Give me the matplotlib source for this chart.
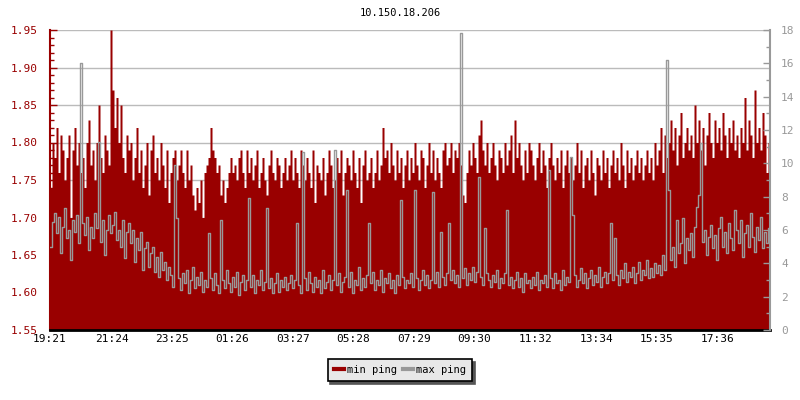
import numpy as np
import matplotlib
matplotlib.use("Agg")
import matplotlib.pyplot as plt
from matplotlib.lines import Line2D
from matplotlib.ticker import MultipleLocator

plt.rcParams['font.family'] = ['DejaVu Sans Mono']
plt.rcParams['font.size'] = 7.5

RED = '#990000'
GREY = '#999999'

title = "10.150.18.206"
start_time = "19:21"
step_min = 4  # minutes per sample
tick_labels = ["19:21", "21:24", "23:25", "01:26", "03:27", "05:28",
               "07:29", "09:30", "11:32", "13:34", "15:35", "17:36"]

# min ping (ms, left axis)
min_ping = [
    1.74, 1.80, 1.78, 1.82, 1.76, 1.81, 1.79, 1.75, 1.78, 1.81, 1.70, 1.79, 1.82, 1.77, 1.80, 1.76, 1.78, 1.74, 1.80, 1.83,
    1.77, 1.79, 1.75, 1.80, 1.85, 1.78, 1.76, 1.81, 1.79, 1.77, 1.95, 1.87, 1.82, 1.86, 1.80, 1.85, 1.78, 1.76, 1.81, 1.79,
    1.80, 1.75, 1.78, 1.82, 1.76, 1.79, 1.74, 1.77, 1.80, 1.73, 1.79, 1.81, 1.76, 1.78, 1.75, 1.80, 1.77, 1.74, 1.79, 1.72,
    1.76, 1.78, 1.79, 1.75, 1.77, 1.79, 1.76, 1.74, 1.79, 1.75, 1.77, 1.73, 1.71, 1.74, 1.72, 1.75, 1.70, 1.76, 1.77, 1.78,
    1.82, 1.79, 1.78, 1.76, 1.77, 1.73, 1.75, 1.72, 1.74, 1.76, 1.78, 1.76, 1.77, 1.75, 1.78, 1.79, 1.76, 1.74, 1.79, 1.76,
    1.78, 1.75, 1.77, 1.79, 1.74, 1.76, 1.78, 1.75, 1.73, 1.77, 1.79, 1.76, 1.75, 1.78, 1.77, 1.74, 1.76, 1.78, 1.75, 1.77,
    1.79, 1.75, 1.78, 1.76, 1.74, 1.79, 1.77, 1.75, 1.78, 1.76, 1.74, 1.79, 1.72, 1.77, 1.76, 1.75, 1.78, 1.73, 1.76, 1.79,
    1.77, 1.74, 1.75, 1.78, 1.76, 1.79, 1.73, 1.76, 1.78, 1.77, 1.75, 1.79, 1.76, 1.74, 1.78, 1.72, 1.77, 1.79, 1.75, 1.76,
    1.78, 1.74, 1.76, 1.79, 1.75, 1.77, 1.82, 1.78, 1.79, 1.76, 1.80, 1.77, 1.75, 1.79, 1.76, 1.78, 1.74, 1.77, 1.79, 1.75,
    1.78, 1.76, 1.80, 1.77, 1.75, 1.79, 1.78, 1.74, 1.77, 1.80, 1.76, 1.79, 1.75, 1.78, 1.76, 1.74, 1.79, 1.80, 1.77, 1.78,
    1.80, 1.76, 1.79, 1.78, 1.80, 1.77, 1.73, 1.72, 1.76, 1.79, 1.77, 1.80, 1.78, 1.76, 1.81, 1.83, 1.79, 1.77, 1.80, 1.76,
    1.78, 1.80, 1.77, 1.75, 1.79, 1.78, 1.76, 1.80, 1.77, 1.79, 1.81, 1.76, 1.83, 1.78, 1.80, 1.77, 1.75, 1.79, 1.76, 1.80,
    1.79, 1.77, 1.75, 1.78, 1.80, 1.76, 1.79, 1.77, 1.74, 1.78, 1.80, 1.77, 1.75, 1.78, 1.76, 1.79, 1.74, 1.77, 1.79, 1.76,
    1.78, 1.75, 1.77, 1.80, 1.76, 1.79, 1.74, 1.77, 1.78, 1.75, 1.79, 1.76, 1.73, 1.78, 1.77, 1.75, 1.79, 1.76, 1.78, 1.74,
    1.77, 1.79, 1.76, 1.78, 1.75, 1.80, 1.77, 1.74, 1.79, 1.76, 1.78, 1.75, 1.77, 1.79, 1.76, 1.78, 1.75, 1.77, 1.79, 1.76,
    1.78, 1.75, 1.80, 1.77, 1.79, 1.82, 1.76, 1.81, 1.78, 1.80, 1.83, 1.79, 1.82, 1.77, 1.81, 1.84, 1.78, 1.80, 1.82, 1.79,
    1.81, 1.78, 1.85, 1.80, 1.83, 1.79, 1.82, 1.77, 1.81, 1.84, 1.80, 1.78, 1.83, 1.80, 1.82, 1.79, 1.84, 1.81, 1.78, 1.82,
    1.80, 1.83, 1.79, 1.81, 1.78, 1.82, 1.80, 1.86, 1.79, 1.83, 1.81, 1.78, 1.87, 1.80, 1.82, 1.79, 1.84, 1.81, 1.76, 1.80,
]

# max ping (ms, right axis)
max_ping = [
    5.0, 6.5, 7.0, 5.8, 6.8, 4.6, 6.2, 7.3, 5.5, 6.0, 4.2, 6.6, 5.9, 6.9, 5.2, 16.0, 6.4, 5.7, 6.8, 4.8,
    6.2, 5.5, 7.0, 6.1, 11.3, 5.3, 6.6, 4.5, 6.0, 6.9, 5.8, 6.3, 7.1, 5.4, 6.0, 5.0, 6.6, 4.3, 5.9, 6.4,
    5.2, 6.0, 4.1, 5.5, 4.8, 5.9, 3.6, 4.9, 5.3, 3.8, 4.6, 5.0, 3.5, 4.4, 3.2, 4.7, 3.6, 4.1, 3.0, 3.8,
    3.3, 2.6, 9.9, 6.7, 3.1, 2.4, 3.4, 2.8, 3.6, 2.2, 3.0, 3.8, 2.5, 3.2, 2.7, 3.5, 2.3, 3.0, 2.6, 5.8,
    3.1, 2.4, 3.4, 2.7, 2.2, 6.6, 3.0, 2.5, 3.6, 2.8, 2.3, 3.2, 2.6, 3.5, 2.1, 2.9, 3.3, 2.4, 3.0, 7.9,
    2.6, 3.3, 2.2, 3.0, 2.7, 3.6, 2.4, 2.9, 7.3, 2.5, 3.1, 2.2, 2.8, 3.4, 2.3, 3.0, 2.6, 3.2, 2.4, 2.8,
    3.3, 2.5, 3.0, 6.4, 2.7, 2.2, 10.7, 3.1, 2.4, 3.5, 2.8, 2.3, 3.2, 2.6, 3.0, 2.2, 3.6, 2.5, 2.9, 3.3,
    2.4, 3.0, 10.8, 2.7, 3.4, 2.3, 2.9, 3.2, 8.4, 2.6, 3.5, 2.2, 3.0, 2.7, 3.8, 2.4, 3.1, 2.6, 3.3, 6.4,
    2.8, 3.5, 2.4, 3.0, 2.7, 3.6, 2.3, 3.1, 2.8, 3.4, 2.5, 3.0, 2.2, 3.3, 2.7, 7.8, 3.2, 2.5, 3.0, 2.8,
    3.4, 2.6, 8.4, 3.1, 2.4, 3.0, 3.6, 2.7, 3.3, 2.5, 3.0, 8.3, 2.8, 3.5, 2.6, 5.9, 3.2, 2.7, 3.4, 6.4,
    3.0, 3.6, 2.8, 3.3, 2.6, 17.8, 3.1, 3.7, 2.7, 3.4, 3.0, 3.8, 2.9, 3.5, 9.2, 3.2, 2.7, 6.1, 3.4, 3.0,
    2.6, 3.3, 2.9, 3.6, 2.5, 3.1, 2.8, 3.4, 7.2, 2.7, 3.2, 2.5, 3.0, 3.5, 2.6, 3.1, 2.3, 3.4, 2.8, 3.0,
    2.5, 3.2, 2.7, 3.5, 2.4, 3.0, 2.8, 3.3, 2.6, 9.6, 3.1, 2.5, 3.4, 2.8, 3.0, 2.4, 3.6, 2.7, 3.2, 2.9,
    10.4, 6.9, 3.3, 2.6, 3.0, 3.7, 2.8, 3.4, 2.5, 3.1, 3.6, 2.7, 3.3, 2.9, 3.8, 2.6, 3.2, 3.5, 2.8, 3.4,
    6.4, 3.0, 5.5, 3.3, 2.7, 3.6, 3.1, 4.0, 2.9, 3.5, 3.2, 3.8, 2.8, 3.4, 4.1, 3.0, 3.6, 3.3, 4.2, 3.1,
    3.7, 3.2, 4.0, 3.4, 3.9, 3.3, 4.5, 3.6, 16.2, 8.4, 4.2, 5.0, 3.8, 6.6, 4.6, 5.2, 6.7, 4.0, 5.5, 4.8,
    5.8, 4.4, 6.2, 7.4, 8.1, 11.2, 5.3, 6.0, 4.5, 5.6, 6.3, 4.9, 5.7, 4.2, 6.1, 6.8, 5.0, 5.9, 4.6, 6.4,
    5.5, 4.8, 7.2, 6.0, 5.2, 6.6, 4.4, 5.8, 6.3, 5.0, 7.0, 5.6, 4.7, 6.2, 5.4, 6.8, 4.9, 5.9, 5.2, 6.1,
]

n = len(min_ping)
xs = np.arange(n + 1)
mins = np.append(min_ping, min_ping[-1])
maxs = np.append(max_ping, max_ping[-1])


def to_min(t):
    h, m = map(int, t.split(':'))
    return h * 60 + m


t0 = to_min(start_time)
tick_pos = [((to_min(t) - t0) % 1440) / step_min for t in tick_labels]

fig = plt.figure(figsize=(8, 4), dpi=100)
ax = fig.add_axes([50 / 800, 70 / 400, 720 / 800, 300 / 400])
ax2 = ax.twinx()

ax.set_axisbelow(True)
ax.yaxis.grid(True, color='#bbbbbb', lw=1)
ax.fill_between(xs, 1.55, mins, step='post', color=RED, lw=0)
ax2.step(xs, maxs, where='post', color=GREY, lw=1)

ax.set_xlim(0, n)
ax.set_ylim(1.55, 1.95)
ax2.set_ylim(0, 18)

ax.set_yticks(np.arange(1.55, 1.951, 0.05))
ax.set_yticklabels(["%.2f" % v for v in np.arange(1.55, 1.951, 0.05)])
ax.yaxis.set_minor_locator(MultipleLocator(0.01))
ax2.set_yticks(range(0, 19, 2))
ax2.yaxis.set_minor_locator(MultipleLocator(1))
ax.set_xticks(tick_pos)
ax.set_xticklabels(tick_labels)

for a in (ax, ax2):
    a.spines['top'].set_visible(False)
ax.spines['right'].set_visible(False)
ax2.spines['left'].set_visible(False)
ax2.spines['bottom'].set_visible(False)
ax.spines['left'].set_color(RED)
ax.spines['left'].set_linewidth(1.5)
ax2.spines['right'].set_color(GREY)
ax2.spines['right'].set_linewidth(1.5)
ax.spines['bottom'].set_color('black')
ax.spines['bottom'].set_linewidth(2)

ax.tick_params(axis='y', which='major', direction='in', length=5, width=1, color=RED, labelcolor=RED, labelsize=8, pad=9)
ax.tick_params(axis='y', which='minor', direction='in', length=3, width=1, color=RED)
ax2.tick_params(axis='y', which='major', direction='in', length=5, width=1, color=GREY, labelcolor=GREY, labelsize=8, pad=8)
ax2.tick_params(axis='y', which='minor', direction='in', length=3, width=1, color=GREY)
ax.tick_params(axis='x', direction='in', length=5, width=1, color='black', labelsize=8, pad=3)

fig.text(0.5, 1 - 13 / 400, title, ha='center', va='center', fontsize=7.5)

handles = [Line2D([], [], color=RED, lw=3), Line2D([], [], color=GREY, lw=3)]
leg = fig.legend(handles, ["min ping", "max ping"], loc='center', bbox_to_anchor=(0.5, 1 - 370 / 400),
                 ncol=2, frameon=True, fancybox=False, edgecolor='black', facecolor='#e8e8e8', framealpha=1,
                 shadow={'color': '#555555', 'alpha': 1}, handlelength=1.0, handletextpad=0.3,
                 columnspacing=0.5, borderpad=0.6, fontsize=7.5)
leg.get_frame().set_linewidth(1.2)

fig.savefig("out.png", dpi=100)
